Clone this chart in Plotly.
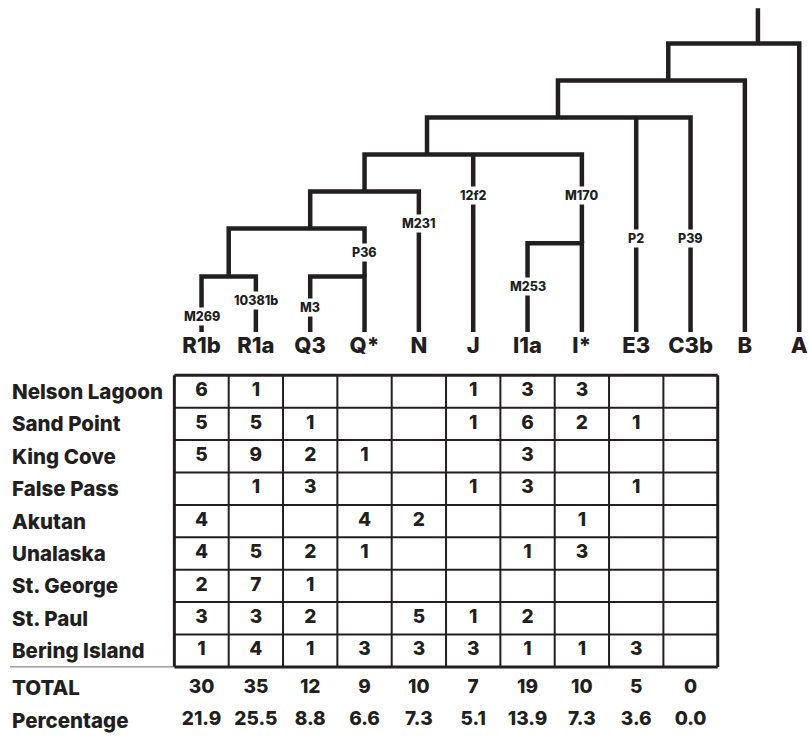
import plotly.graph_objects as go

# ---------------- data ----------------
haplogroups = ["R1b", "R1a", "Q3", "Q*", "N", "J", "I1a", "I*", "E3", "C3b", "B", "A"]
table_groups = ["R1b", "R1a", "Q3", "Q*", "N", "J", "I1a", "I*", "E3", "C3b"]

populations = ["Nelson Lagoon", "Sand Point", "King Cove", "False Pass", "Akutan",
               "Unalaska", "St. George", "St. Paul", "Bering Island"]

nelson_lagoon = [6, 1, None, None, None, 1, 3, 3, None, None]
sand_point    = [5, 5, 1, None, None, 1, 6, 2, 1, None]
king_cove     = [5, 9, 2, 1, None, None, 3, None, None, None]
false_pass    = [None, 1, 3, None, None, 1, 3, None, 1, None]
akutan        = [4, None, None, 4, 2, None, None, 1, None, None]
unalaska      = [4, 5, 2, 1, None, None, 1, 3, None, None]
st_george     = [2, 7, 1, None, None, None, None, None, None, None]
st_paul       = [3, 3, 2, None, 5, 1, 2, None, None, None]
bering_island = [1, 4, 1, 3, 3, 3, 1, 1, 3, None]
counts = [nelson_lagoon, sand_point, king_cove, false_pass, akutan,
          unalaska, st_george, st_paul, bering_island]

totals = [30, 35, 12, 9, 10, 7, 19, 10, 5, 0]
percentages = ["21.9", "25.5", "8.8", "6.6", "7.3", "5.1", "13.9", "7.3", "3.6", "0.0"]

# tree: (clade, children, junction level, stem position in leaf units)
tree_clades = [
    ("R",    ["R1b", "R1a"],         1.5, 0.5),
    ("Qc",   ["Q3", "Q*"],           1.5, 3),
    ("Ic",   ["I1a", "I*"],          2.4, 7),
    ("RQ",   ["R", "Qc"],            2.8, 2),
    ("RQN",  ["RQ", "N"],            3.8, 3),
    ("NJI",  ["RQN", "J", "Ic"],     4.8, 4.15),
    ("CF",   ["NJI", "E3", "C3b"],   5.8, 6.56),
    ("BT",   ["CF", "B"],            6.8, 8.59),
    ("root", ["BT", "A"],            7.8, 10.24),
]
root_top = 8.75

# mutation markers: (label, branch position in leaf units, level)
markers = [
    ("M269", 0, 0.41), ("10381b", 1, 0.86), ("M3", 2, 0.65), ("P36", 3, 2.14),
    ("M231", 4, 2.92), ("12f2", 5, 3.70), ("M253", 6, 1.22), ("M170", 7, 3.70),
    ("P2", 8, 2.54), ("P39", 9, 2.54),
]

# ---------------- styling ----------------
INK = "#231f20"
FONT = "Inter"
W = 800

fig = go.Figure()

# --- tree lines ---
pos = {h: (i, 0.0) for i, h in enumerate(haplogroups)}
xs, ys = [], []
for name, children, H, stem in tree_clades:
    cp = [pos[c] for c in children]
    left = min(cp, key=lambda p: p[0])
    right = max(cp, key=lambda p: p[0])
    xs += [left[0], left[0], right[0], right[0], None]
    ys += [left[1], H, H, right[1], None]
    for p in cp:
        if p is not left and p is not right:
            xs += [p[0], p[0], None]
            ys += [p[1], H, None]
    pos[name] = (stem, H)
rx, rh = pos["root"]
xs += [rx, rx, None]
ys += [rh, root_top, None]

fig.add_trace(go.Scatter(x=xs, y=ys, mode="lines", xaxis="x", yaxis="y2",
                         line=dict(color=INK, width=4.5), hoverinfo="skip",
                         showlegend=False))

# leaf labels
fig.add_trace(go.Scatter(x=list(range(len(haplogroups))), y=[-0.43] * len(haplogroups),
                         text=haplogroups, mode="text", xaxis="x", yaxis="y2",
                         textfont=dict(family=FONT, size=22, color=INK, weight=W),
                         hoverinfo="skip", showlegend=False))

# marker labels (white boxes break the branch lines)
for lab, bx, lv in markers:
    fig.add_annotation(x=bx, y=lv, xref="x", yref="y2", text=lab, showarrow=False,
                       bgcolor="white", borderpad=1,
                       font=dict(family=FONT, size=12.5, color=INK, weight=W))

# --- table grid ---
nrows, ncols = len(populations), len(table_groups)
shapes = []
for c in range(ncols + 1):
    w = 3 if c in (0, ncols) else 2
    shapes.append(dict(type="line", xref="x", yref="y", x0=c - 0.5, x1=c - 0.5,
                       y0=-0.5, y1=nrows - 0.5, line=dict(color=INK, width=w)))
for r in range(nrows + 1):
    w = 3 if r in (0, nrows) else 2
    shapes.append(dict(type="line", xref="x", yref="y", x0=-0.5, x1=ncols - 0.5,
                       y0=r - 0.5, y1=r - 0.5, line=dict(color=INK, width=w)))
# thin rule under the population names
shapes.append(dict(type="line", xref="x", yref="y", x0=-3.525, x1=-0.5,
                   y0=nrows - 0.5, y1=nrows - 0.5, line=dict(color="#6d6b6c", width=1)))
fig.update_layout(shapes=shapes)

# cell values
cx, cy, ct = [], [], []
for r, row in enumerate(counts):
    for c, v in enumerate(row):
        if v is not None:
            cx.append(c); cy.append(r); ct.append(str(v))
fig.add_trace(go.Scatter(x=cx, y=cy, text=ct, mode="text", xaxis="x", yaxis="y",
                         textfont=dict(family=FONT, size=19, color=INK, weight=W),
                         hoverinfo="skip", showlegend=False))

# row labels
total_row, pct_row = 9.15, 10.15
row_names = populations + ["TOTAL", "Percentage"]
row_pos = list(range(nrows)) + [total_row, pct_row]
for name, rp in zip(row_names, row_pos):
    fig.add_annotation(x=-3.525, y=rp, xref="x", yref="y", text=name, showarrow=False,
                       xanchor="left", yanchor="middle",
                       font=dict(family=FONT, size=20.5, color=INK, weight=W))

# totals and percentages
fig.add_trace(go.Scatter(x=list(range(ncols)), y=[total_row] * ncols, text=[str(t) for t in totals],
                         mode="text", xaxis="x", yaxis="y",
                         textfont=dict(family=FONT, size=19, color=INK, weight=W),
                         hoverinfo="skip", showlegend=False))
fig.add_trace(go.Scatter(x=list(range(ncols)), y=[pct_row] * ncols, text=percentages,
                         mode="text", xaxis="x", yaxis="y",
                         textfont=dict(family=FONT, size=19, color=INK, weight=W),
                         hoverinfo="skip", showlegend=False))

fig.update_layout(
    width=809, height=736, autosize=False,
    margin=dict(l=0, r=0, t=0, b=0),
    paper_bgcolor="white", plot_bgcolor="white",
    xaxis=dict(range=[-3.709, 11.18], visible=False, fixedrange=True),
    yaxis=dict(range=[10.633, -12.083], visible=False, fixedrange=True),
    yaxis2=dict(range=[-10.919, 8.973], visible=False, fixedrange=True,
                overlaying="y"),
    showlegend=False,
)

fig.write_html("out.html", config={"displayModeBar": False},
               post_script="document.body.style.margin='0';document.body.style.overflow='hidden';")
